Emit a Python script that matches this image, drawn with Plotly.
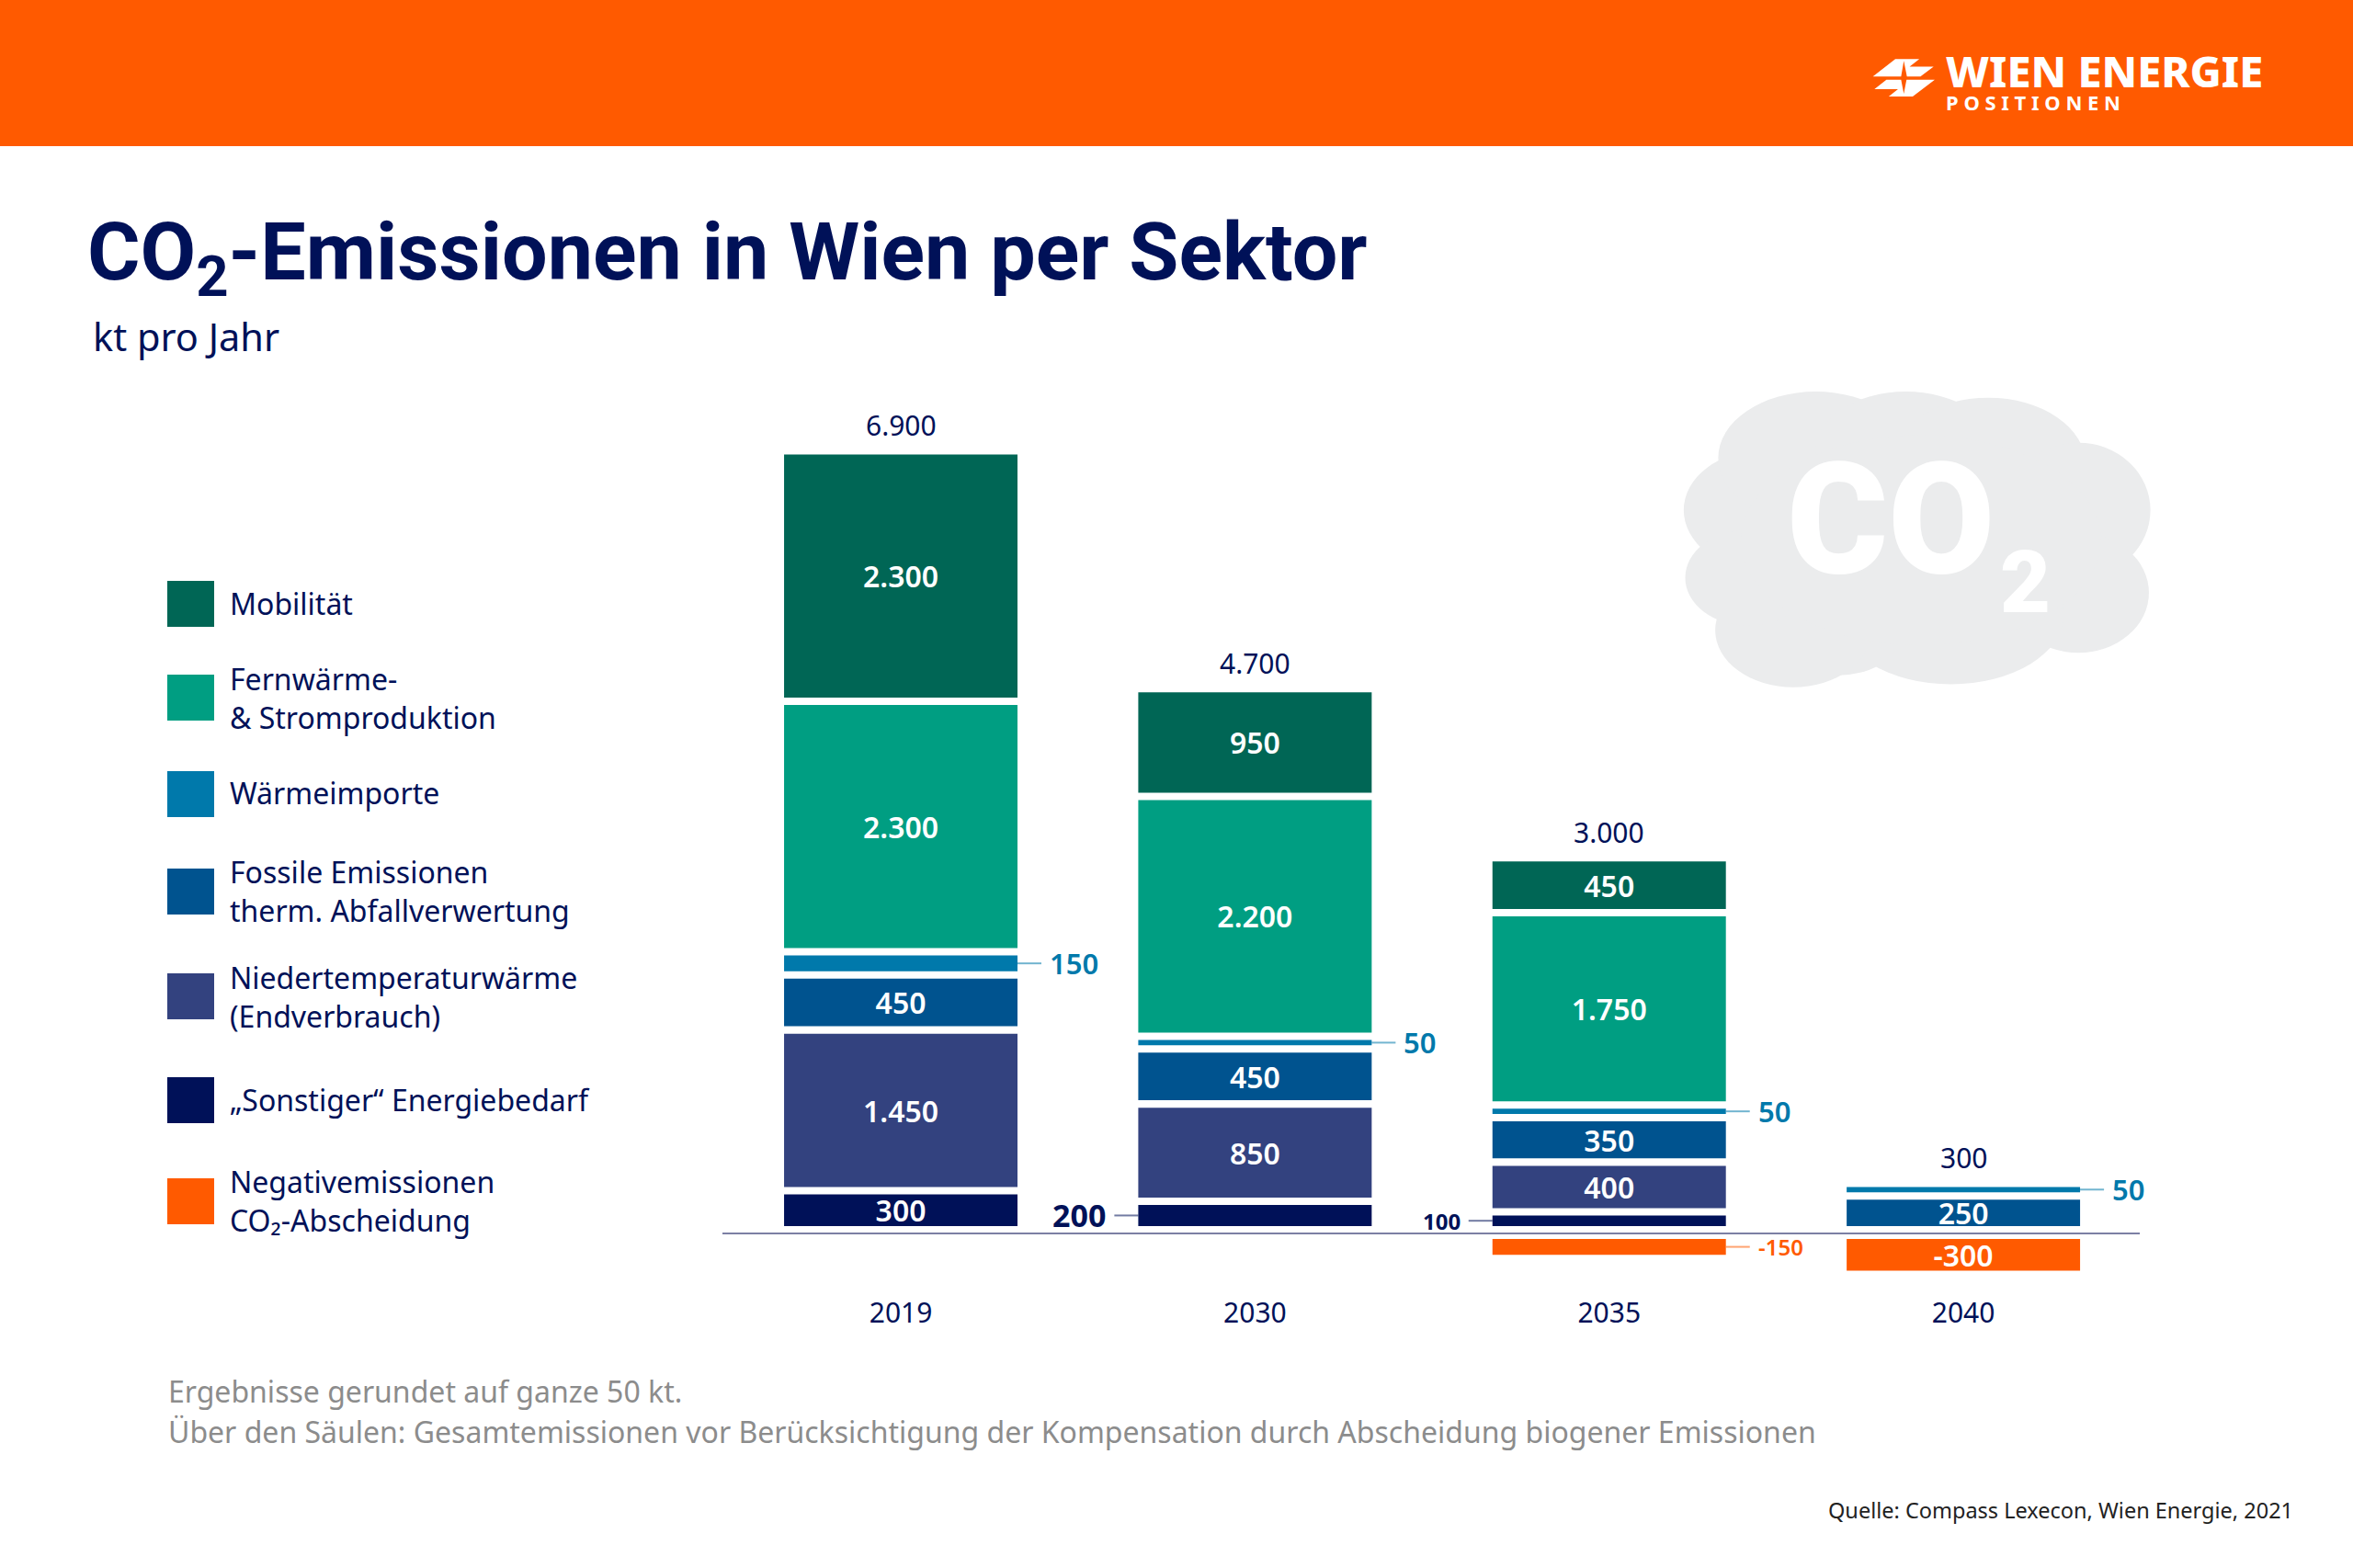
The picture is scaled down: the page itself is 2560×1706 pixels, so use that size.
import plotly.graph_objects as go

YEARS = ["2019", "2030", "2035", "2040"]
MOBILITAET = [2300, 950, 450, 0]
FERNWAERME = [2300, 2200, 1750, 0]
WAERMEIMPORTE = [150, 50, 50, 50]
FOSSILE = [450, 450, 350, 250]
NIEDERTEMP = [1450, 850, 400, 0]
SONSTIGE = [300, 200, 100, 0]
NEGATIV = [0, 0, -150, -300]
TOTALS = [6900, 4700, 3000, 300]

LEGEND_LABELS = [
    "Mobilität",
    "Fernwärme-<br>& Stromproduktion",
    "Wärmeimporte",
    "Fossile Emissionen<br>therm. Abfallverwertung",
    "Niedertemperaturwärme<br>(Endverbrauch)",
    "„Sonstiger“ Energiebedarf",
    "Negativemissionen<br>CO₂-Abscheidung",
]

W, H = 2560, 1706
FONT = "Noto Sans"
NAVY = "#001158"
ORANGE = "#FF5A00"
C_MOB, C_FERN, C_WI, C_FOS, C_NT = "#006655", "#009E82", "#0079AB", "#00538F", "#33427F"
GAP = 70      # white separation between stacked blocks, in axis units
NEG_GAP = 52
BAR_W = 0.659


def px(x):
    return x / W


def py(y):
    return 1 - y / H


def de(v):
    s = f"{abs(v):,}".replace(",", ".")
    return ("-" if v < 0 else "") + s


stack = [
    ("Sonstige", SONSTIGE, NAVY),
    ("Niedertemperatur", NIEDERTEMP, C_NT),
    ("Fossile", FOSSILE, C_FOS),
    ("Wärmeimporte", WAERMEIMPORTE, C_WI),
    ("Fernwärme", FERNWAERME, C_FERN),
    ("Mobilität", MOBILITAET, C_MOB),
]

# labels placed beside their block: (series values, year index, side, font size, bold weight, colour)
SIDE_LABELS = [
    (WAERMEIMPORTE, 0, 1, 31, 600, C_WI),
    (WAERMEIMPORTE, 1, 1, 31, 600, C_WI),
    (WAERMEIMPORTE, 2, 1, 31, 600, C_WI),
    (WAERMEIMPORTE, 3, 1, 31, 600, C_WI),
    (SONSTIGE, 1, -1, 34, 700, NAVY),
    (SONSTIGE, 2, -1, 24, 700, NAVY),
    (NEGATIV, 2, 1, 24, 600, ORANGE),
]

fig = go.Figure()
running = [GAP] * 4
bases = {}
for name, vals, col in stack:
    base = list(running)
    bases[id(vals)] = base
    side_idx = {s[1] for s in SIDE_LABELS if s[0] is vals}
    # one text mode per trace: only blocks that carry their label inside get text
    inside = [i for i, v in enumerate(vals) if v and i not in side_idx]
    if inside:
        labelled = dict(
            text=[de(vals[i]) if i in inside else " " for i in range(4)],
            textposition="inside", insidetextanchor="middle", textangle=0, constraintext="none",
            textfont=dict(family=FONT, size=32, color="white", weight=600),
        )
    else:
        labelled = dict(textposition="none")
    fig.add_trace(go.Bar(
        x=YEARS, y=[v if v else None for v in vals], base=base, width=BAR_W, name=name,
        marker=dict(color=col, line=dict(width=0)),
        hoverinfo="skip", showlegend=False, **labelled,
    ))
    running = [r + v + GAP if v else r for r, v in zip(running, vals)]

neg_base = [-NEG_GAP] * 4
bases[id(NEGATIV)] = neg_base
fig.add_trace(go.Bar(
    x=YEARS, y=[v if v else None for v in NEGATIV], base=neg_base, width=BAR_W, name="Negativ",
    marker=dict(color=ORANGE, line=dict(width=0)),
    text=[" ", " ", " ", de(NEGATIV[3])], textposition="inside", insidetextanchor="middle",
    textangle=0, constraintext="none",
    textfont=dict(family=FONT, size=32, color="white", weight=600),
    hoverinfo="skip", showlegend=False,
))

shapes = []
ann = []


def text(x, y, t, size, color=NAVY, weight=400, xanchor="left", yanchor="middle", family=FONT):
    ann.append(dict(x=px(x), y=py(y), xref="paper", yref="paper", text=t, showarrow=False,
                    xanchor=xanchor, yanchor=yanchor, align="left",
                    font=dict(family=family, size=size, color=color, weight=weight)))


# header
shapes.append(dict(type="rect", xref="paper", yref="paper", x0=0, x1=1, y0=py(159), y1=1,
                   fillcolor=ORANGE, line_width=0, layer="below"))

# logo glyph
def path(points):
    pts = [(px(1900 + a / 2.376), py(b / 1.96)) for a, b in points]
    return "M " + " L ".join(f"{a:.5f},{b:.5f}" for a, b in pts) + " Z"


for p in ([(327, 163), (385, 126), (447, 126), (422, 142), (484, 142), (450, 163), (415, 163), (407, 130), (400, 163)],
          [(331, 190), (362, 170), (400, 170), (407, 200), (414, 170), (487, 170), (430, 206), (368, 206), (392, 190)]):
    shapes.append(dict(type="path", xref="paper", yref="paper", path=path(p), fillcolor="white", line_width=0))

# cloud
S = 2560 / 1568
for cx, cy, rx, ry in [(1175, 340, 53, 40), (1210, 305, 65, 44), (1270, 300, 60, 39), (1325, 310, 65, 45),
                       (1385, 340, 48, 45), (1385, 395, 47, 40), (1300, 410, 75, 46), (1225, 425, 40, 25),
                       (1195, 420, 52, 38), (1165, 385, 42, 32), (1280, 360, 120, 70)]:
    shapes.append(dict(type="circle", xref="paper", yref="paper", x0=px((cx - rx) * S), x1=px((cx + rx) * S),
                       y0=py((cy + ry) * S), y1=py((cy - ry) * S), fillcolor="#EBECED", line_width=0, layer="below"))

text(1942, 565, "CO", 168, "white", 900, family="Roboto")
text(2174, 634, "2", 95, "white", 900, family="Roboto")

text(2115, 77, "WIEN ENERGIE", 47, "white", 800)
text(2115, 111, "P O S I T I O N E N", 22, "white", 700)

# titles
text(93, 280, "CO<sub>2</sub>-Emissionen in Wien per Sektor", 88, NAVY, 700, family="Roboto")
text(99, 366, "kt pro Jahr", 41.5)

# legend
for y, col in zip([657, 759, 864, 970, 1084, 1197, 1307], [C_MOB, C_FERN, C_WI, C_FOS, C_NT, NAVY, ORANGE]):
    shapes.append(dict(type="rect", xref="paper", yref="paper", x0=px(182), x1=px(233), y0=py(y + 25), y1=py(y - 25),
                       fillcolor=col, line_width=0))
for y, lab in zip([656, 759, 863, 970, 1084, 1196, 1306], LEGEND_LABELS):
    text(248, y, lab, 32)

# totals
tops = running
for i, v in enumerate(TOTALS):
    ann.append(dict(x=i, y=tops[i] - GAP, xref="x", yref="y", text=de(v), showarrow=False, yanchor="middle",
                    yshift=32, font=dict(family=FONT, size=30, color=NAVY)))

# side labels with connectors
for vals, i, side, size, weight, col in SIDE_LABELS:
    base = bases[id(vals)][i]
    mid = base + vals[i] / 2
    edge = i + side * BAR_W / 2
    shapes.append(dict(type="line", xref="x", yref="y", x0=edge, x1=edge + side * 26 / 385, y0=mid, y1=mid,
                       line=dict(color=col, width=2), opacity=0.55))
    ann.append(dict(x=edge, y=mid, xref="x", yref="y", text=de(vals[i]), showarrow=False,
                    xanchor="left" if side > 0 else "right", yanchor="middle", xshift=side * 33,
                    font=dict(family=FONT, size=size, color=col, weight=weight)))

# notes
text(181, 1513, "Ergebnisse gerundet auf ganze 50 kt.", 32, "#8C8C8C")
text(181, 1557, "Über den Säulen: Gesamtemissionen vor Berücksichtigung der Kompensation durch Abscheidung biogener Emissionen",
     32, "#8C8C8C")
text(2497, 1643, "Quelle: Compass Lexecon, Wien Energie, 2021", 23.5, "#222222", xanchor="right")

fig.update_layout(
    width=W, height=H, margin=dict(l=0, r=0, t=0, b=0, pad=0, autoexpand=False),
    paper_bgcolor="white", plot_bgcolor="rgba(0,0,0,0)", barmode="overlay", showlegend=False,
    shapes=shapes, annotations=ann,
    xaxis=dict(type="category", categoryorder="array", categoryarray=YEARS, domain=[px(786), px(2328)],
               range=[-0.5035, 3.498], showgrid=False, zeroline=False, showline=False, ticks="", ticklen=0,
               tickfont=dict(family=FONT, size=30, color=NAVY), anchor="y"),
    yaxis=dict(domain=[py(1408), py(440)], range=[-574, 7843], showgrid=False, showticklabels=False, ticks="",
               zeroline=True, zerolinecolor="#7C80A4", zerolinewidth=2, showline=False, fixedrange=True),
)

fig.write_html("out.html", post_script="document.body.style.margin='0';document.body.style.overflow='hidden';",
               config=dict(displayModeBar=False))
